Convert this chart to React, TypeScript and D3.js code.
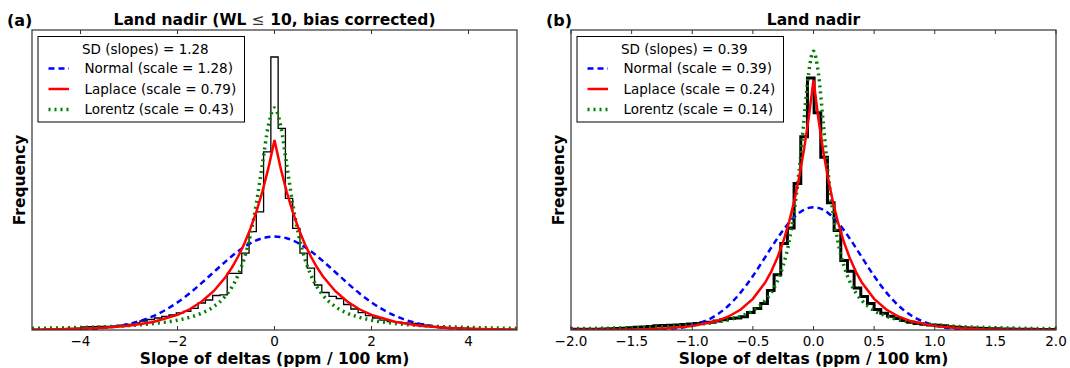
import React from "react";
import * as d3 from "d3";

// ---------------- Panel (a) data ----------------
const xsA = [-5, -4.5, -4, -3.5, -3, -2.5, -2, -1.75, -1.5, -1.25, -1, -0.875, -0.75, -0.625, -0.5, -0.375, -0.25, -0.125, 0, 0.125, 0.25, 0.375, 0.5, 0.625, 0.75, 0.875, 1, 1.25, 1.5, 1.75, 2, 2.5, 3, 3.5, 4, 4.5, 5];
const normalA = [0.0002, 0.0006, 0.0024, 0.0074, 0.02, 0.0463, 0.092, 0.1224, 0.1569, 0.1935, 0.2297, 0.2468, 0.2625, 0.2767, 0.2888, 0.2986, 0.3058, 0.3102, 0.3117, 0.3102, 0.3058, 0.2986, 0.2888, 0.2767, 0.2625, 0.2468, 0.2297, 0.1935, 0.1569, 0.1224, 0.092, 0.0463, 0.02, 0.0074, 0.0024, 0.0006, 0.0002];
const laplaceA = [0.0011, 0.0021, 0.004, 0.0075, 0.0142, 0.0267, 0.0503, 0.0691, 0.0948, 0.1301, 0.1785, 0.2091, 0.2449, 0.2869, 0.3361, 0.3937, 0.4612, 0.5403, 0.6329, 0.5403, 0.4612, 0.3937, 0.3361, 0.2869, 0.2449, 0.2091, 0.1785, 0.1301, 0.0948, 0.0691, 0.0503, 0.0267, 0.0142, 0.0075, 0.004, 0.0021, 0.0011];
const lorentzA = [0.0054, 0.0067, 0.0085, 0.011, 0.0149, 0.0213, 0.0327, 0.0422, 0.0562, 0.0783, 0.1155, 0.144, 0.1831, 0.2378, 0.3147, 0.4205, 0.5533, 0.6826, 0.7403, 0.6826, 0.5533, 0.4205, 0.3147, 0.2378, 0.1831, 0.144, 0.1155, 0.0783, 0.0562, 0.0422, 0.0327, 0.0213, 0.0149, 0.011, 0.0085, 0.0067, 0.0054];
const histStartA = -5.025;
const binWidthA = 0.15;
const histA = [
  0.002, 0.002, 0.003, 0.003, 0.004, 0.005, 0.006,
  0.010, 0.011, 0.012, 0.012, 0.013, 0.016, 0.019,
  0.024, 0.030, 0.035, 0.040, 0.045, 0.050, 0.057,
  0.062, 0.072, 0.090, 0.100, 0.115,
  0.117, 0.189, 0.189, 0.256, 0.328, 0.394, 0.594,
  0.91,
  0.672, 0.439, 0.339, 0.256, 0.206, 0.15, 0.125, 0.112, 0.105, 0.085, 0.07, 0.058, 0.048, 0.04,
  0.033, 0.028, 0.026, 0.024, 0.022, 0.02, 0.016, 0.012, 0.01, 0.008, 0.007, 0.006, 0.005, 0.004,
  0.004, 0.003, 0.003, 0.002, 0.002, 0.002,
];
const ticksA = [-4, -2, 0, 2, 4];
const tickLabelsA = ["\u22124", "\u22122", "0", "2", "4"];
const legendA = ["SD (slopes) = 1.28", "Normal (scale = 1.28)", "Laplace (scale = 0.79)", "Lorentz (scale = 0.43)"];

// ---------------- Panel (b) data ----------------
const xsB = [-2, -1.8, -1.6, -1.4, -1.2, -1, -0.8, -0.7, -0.6, -0.5, -0.4, -0.35, -0.3, -0.25, -0.2, -0.16, -0.12, -0.08, -0.04, 0, 0.04, 0.08, 0.12, 0.16, 0.2, 0.25, 0.3, 0.35, 0.4, 0.5, 0.6, 0.7, 0.8, 1, 1.2, 1.4, 1.6, 1.8, 2];
const normalB = [0, 0, 0.0002, 0.0016, 0.009, 0.0382, 0.1248, 0.2043, 0.3132, 0.4497, 0.6045, 0.6838, 0.7609, 0.8329, 0.8969, 0.9403, 0.9756, 1.0016, 1.0175, 1.0229, 1.0175, 1.0016, 0.9756, 0.9403, 0.8969, 0.8329, 0.7609, 0.6838, 0.6045, 0.4497, 0.3132, 0.2043, 0.1248, 0.0382, 0.009, 0.0016, 0.0002, 0, 0];
const laplaceB = [0.0005, 0.0012, 0.0027, 0.0061, 0.014, 0.0323, 0.0743, 0.1127, 0.171, 0.2594, 0.3935, 0.4846, 0.5969, 0.7351, 0.9054, 1.0696, 1.2636, 1.4928, 1.7635, 2.0833, 1.7635, 1.4928, 1.2636, 1.0696, 0.9054, 0.7351, 0.5969, 0.4846, 0.3935, 0.2594, 0.171, 0.1127, 0.0743, 0.0323, 0.014, 0.0061, 0.0027, 0.0012, 0.0005];
const lorentzB = [0.0108, 0.0134, 0.0169, 0.022, 0.0299, 0.0428, 0.0662, 0.0857, 0.1151, 0.1622, 0.2439, 0.3087, 0.4009, 0.5366, 0.742, 0.9829, 1.3147, 1.7326, 2.1409, 2.3234, 2.1409, 1.7326, 1.3147, 0.9829, 0.742, 0.5366, 0.4009, 0.3087, 0.2439, 0.1622, 0.1151, 0.0857, 0.0662, 0.0428, 0.0299, 0.022, 0.0169, 0.0134, 0.0108];
const histStartB = -2.03;
const binWidthB = 0.055;
const histB = [
  0.005, 0.006, 0.006, 0.007, 0.007, 0.008, 0.010,
  0.012, 0.015, 0.018, 0.022, 0.026, 0.030, 0.035,
  0.038, 0.040, 0.042, 0.045, 0.050, 0.055,
  0.060, 0.065, 0.075, 0.085, 0.095, 0.10,
  0.11, 0.145, 0.18, 0.22, 0.33, 0.46, 0.72, 0.85, 1.22, 1.61,
  2.10, 1.81, 1.44, 1.06, 0.83, 0.58, 0.49, 0.35, 0.28, 0.22, 0.17, 0.14, 0.115, 0.095, 0.08, 0.065,
  0.055, 0.047, 0.042, 0.04, 0.035, 0.028, 0.022, 0.018, 0.016, 0.014, 0.012, 0.011, 0.010, 0.009,
  0.008, 0.007, 0.006, 0.006, 0.005, 0.005, 0.004,
];
const ticksB = [-2, -1.5, -1, -0.5, 0, 0.5, 1, 1.5, 2];
const tickLabelsB = ["\u22122.0", "\u22121.5", "\u22121.0", "\u22120.5", "0.0", "0.5", "1.0", "1.5", "2.0"];
const legendB = ["SD (slopes) = 0.39", "Normal (scale = 0.39)", "Laplace (scale = 0.24)", "Lorentz (scale = 0.14)"];

const FONT = "DejaVu Sans, Verdana, sans-serif";
const TOP = 30;
const BOTTOM = 330;
const AXW = 485;

type PanelProps = {
  id: string;
  left: number;
  xDomain: [number, number];
  yMax: number;
  xs: number[];
  normal: number[];
  laplace: number[];
  lorentz: number[];
  histStart: number;
  binWidth: number;
  hist: number[];
  histStroke: number;
  ticks: number[];
  tickLabels: string[];
  legend: string[];
  tag: string;
  title: React.ReactNode;
};

function Panel(p: PanelProps) {
  const x = d3.scaleLinear().domain(p.xDomain).range([p.left, p.left + AXW]);
  const y = d3.scaleLinear().domain([0, p.yMax]).range([BOTTOM, TOP]);
  const smooth = d3
    .line<number>()
    .x((_, i) => x(p.xs[i]))
    .y((d) => y(d))
    .curve(d3.curveMonotoneX);
  const straight = d3
    .line<number>()
    .x((_, i) => x(p.xs[i]))
    .y((d) => y(d));
  const pts: [number, number][] = [[p.histStart, 0]];
  p.hist.forEach((h, i) => pts.push([p.histStart + i * p.binWidth, h]));
  pts.push([p.histStart + p.hist.length * p.binWidth, 0]);
  const histPath = d3
    .line<[number, number]>()
    .x((d) => x(d[0]))
    .y((d) => y(d[1]))
    .curve(d3.curveStepAfter)(pts);
  const cx = p.left + AXW / 2;
  const lx = p.left;
  const rows = [68.5, 89, 109.5];
  return (
    <g>
      <defs>
        <clipPath id={p.id}>
          <rect x={p.left} y={TOP} width={AXW} height={BOTTOM - TOP} />
        </clipPath>
      </defs>
      <g clipPath={`url(#${p.id})`}>
        <path d={histPath || ""} fill="none" stroke="#000" strokeWidth={p.histStroke} strokeLinejoin="miter" />
        <path d={smooth(p.normal) || ""} fill="none" stroke="#0000ff" strokeWidth={2.5} strokeDasharray="6,4" />
        <path d={smooth(p.lorentz) || ""} fill="none" stroke="#008000" strokeWidth={3.5} strokeDasharray="2,4" />
        <path d={straight(p.laplace) || ""} fill="none" stroke="#ff0000" strokeWidth={2.5} />
      </g>
      {/* frame */}
      <rect x={p.left} y={TOP} width={AXW} height={BOTTOM - TOP} fill="none" stroke="#333" strokeWidth={1.2} />
      {p.ticks.map((t, i) => (
        <g key={i}>
          <line x1={x(t)} x2={x(t)} y1={BOTTOM} y2={BOTTOM - 4} stroke="#333" strokeWidth={1} />
          <line x1={x(t)} x2={x(t)} y1={TOP} y2={TOP + 4} stroke="#333" strokeWidth={1} />
          <text x={x(t)} y={346} textAnchor="middle" fontFamily={FONT} fontSize={13.5}>
            {p.tickLabels[i]}
          </text>
        </g>
      ))}
      <text x={cx} y={364} textAnchor="middle" fontFamily={FONT} fontSize={15.5} fontWeight="bold">
        Slope of deltas (ppm / 100 km)
      </text>
      <text transform={`translate(${p.left - 7},${(TOP + BOTTOM) / 2}) rotate(-90)`} textAnchor="middle" fontFamily={FONT} fontSize={15.5} fontWeight="bold">
        Frequency
      </text>
      <text x={cx} y={25} textAnchor="middle" fontFamily={FONT} fontSize={15.5} fontWeight="bold">
        {p.title}
      </text>
      <text x={p.left - 25} y={26} fontFamily={FONT} fontSize={16} fontWeight="bold">
        {p.tag}
      </text>
      {/* legend */}
      <rect x={lx + 6} y={36.5} width={206.5} height={85.5} fill="#fff" stroke="#000" strokeWidth={1} />
      <text x={lx + 50} y={54} fontFamily={FONT} fontSize={13.5}>
        {p.legend[0]}
      </text>
      <line x1={lx + 16.5} x2={lx + 37} y1={rows[0]} y2={rows[0]} stroke="#0000ff" strokeWidth={2.5} strokeDasharray="6,4" />
      <line x1={lx + 16.5} x2={lx + 37} y1={rows[1]} y2={rows[1]} stroke="#ff0000" strokeWidth={2.5} />
      <line x1={lx + 16.5} x2={lx + 37} y1={rows[2]} y2={rows[2]} stroke="#008000" strokeWidth={3.5} strokeDasharray="2,4" />
      {[1, 2, 3].map((k) => (
        <text key={k} x={lx + 52.5} y={rows[k - 1] + 4.8} fontFamily={FONT} fontSize={13.5}>
          {p.legend[k]}
        </text>
      ))}
    </g>
  );
}

export default function App() {
  return (
    <svg width={1070} height={368} style={{ position: "absolute", left: 0, top: 0, background: "#fff" }}>
      <rect x={0} y={0} width={1070} height={368} fill="#fff" />
      <Panel
        id="clipA"
        left={32}
        xDomain={[-5, 5]}
        yMax={1.0}
        xs={xsA}
        normal={normalA}
        laplace={laplaceA}
        lorentz={lorentzA}
        histStart={histStartA}
        binWidth={binWidthA}
        hist={histA}
        histStroke={1.3}
        ticks={ticksA}
        tickLabels={tickLabelsA}
        legend={legendA}
        tag="(a)"
        title={
          <>
            Land nadir (WL <tspan fontWeight="normal" fill="#333">{"\u2264"}</tspan> 10, bias corrected)
          </>
        }
      />
      <Panel
        id="clipB"
        left={571}
        xDomain={[-2, 2]}
        yMax={2.5}
        xs={xsB}
        normal={normalB}
        laplace={laplaceB}
        lorentz={lorentzB}
        histStart={histStartB}
        binWidth={binWidthB}
        hist={histB}
        histStroke={3}
        ticks={ticksB}
        tickLabels={tickLabelsB}
        legend={legendB}
        tag="(b)"
        title="Land nadir"
      />
    </svg>
  );
}
